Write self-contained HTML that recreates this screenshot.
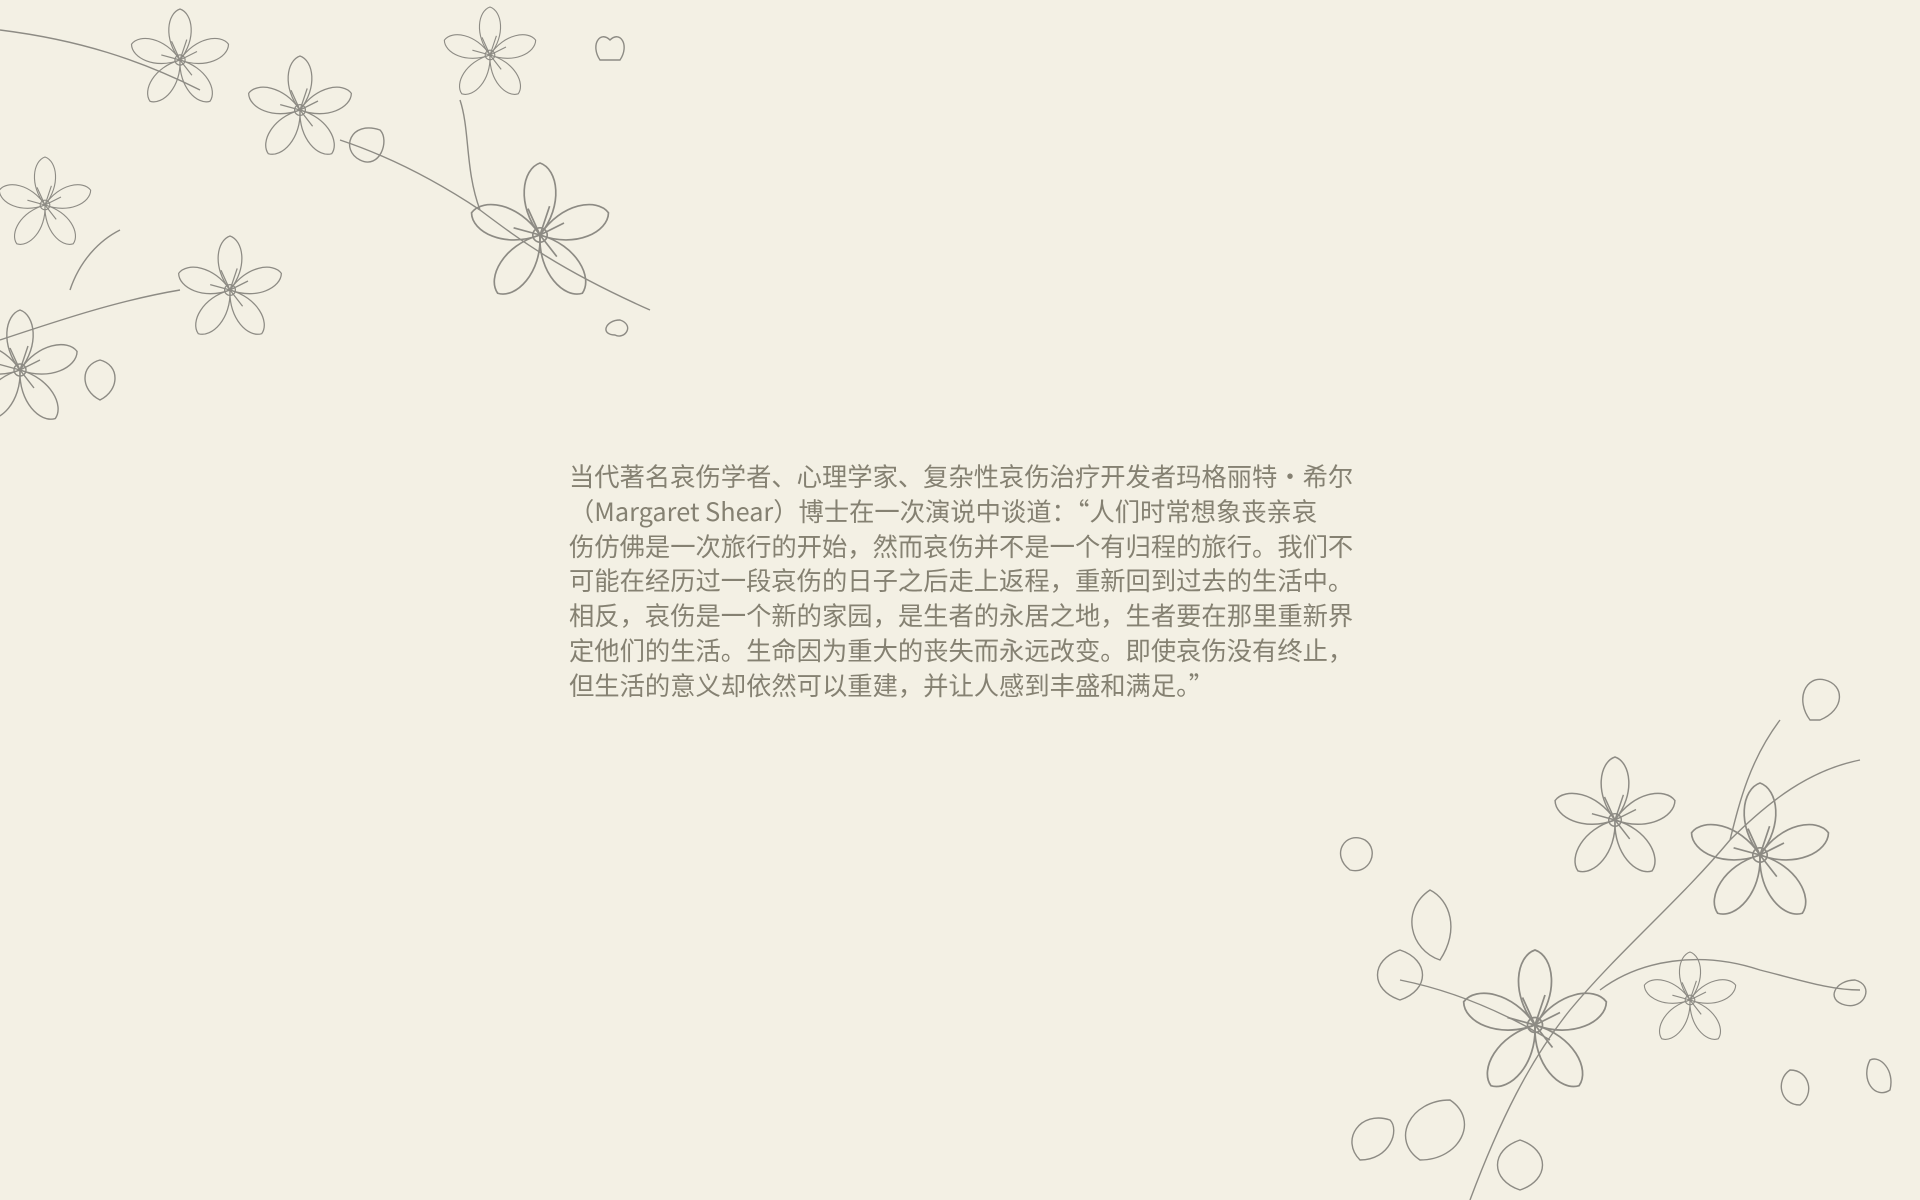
<!DOCTYPE html>
<html><head><meta charset="utf-8">
<style>
html,body{margin:0;padding:0;}
body{width:1920px;height:1200px;background:#f3f0e4;position:relative;overflow:hidden;}
#quote{position:absolute;left:569px;top:459px;font-family:"Noto Sans CJK SC","Liberation Sans",sans-serif;font-size:25.3px;line-height:34.8px;color:#858172;white-space:nowrap;}
svg{position:absolute;}
</style></head>
<body>
<svg style="left:0;top:0" width="680" height="500" viewBox="0 0 680 500" fill="none" stroke="#8d8b84" stroke-width="1.4">
<defs>
<g id="fl">
<path d="M0,0 C-20,-25 -15,-55 0,-60 C15,-55 20,-25 0,0Z"/>
<path d="M0,0 C-20,-25 -15,-55 0,-60 C15,-55 20,-25 0,0Z" transform="rotate(72)"/>
<path d="M0,0 C-20,-25 -15,-55 0,-60 C15,-55 20,-25 0,0Z" transform="rotate(144)"/>
<path d="M0,0 C-20,-25 -15,-55 0,-60 C15,-55 20,-25 0,0Z" transform="rotate(216)"/>
<path d="M0,0 C-20,-25 -15,-55 0,-60 C15,-55 20,-25 0,0Z" transform="rotate(288)"/>
<circle r="6"/>
<path d="M0,0 L-10,-22 M0,0 L8,-24 M0,0 L20,-10 M0,0 L-22,-6 M0,0 L14,18"/>
</g>
</defs>
<path d="M0,30 C80,40 140,60 200,90 M340,140 C400,160 450,190 480,210 C520,240 560,270 650,310 M0,340 C60,320 120,300 180,290 M70,290 C80,260 100,240 120,230 M460,100 C470,130 465,170 480,210"/>
<use href="#fl" transform="translate(180,60) scale(0.85)"/>
<use href="#fl" transform="translate(300,110) scale(0.9)"/>
<use href="#fl" transform="translate(490,55) scale(0.8)"/>
<use href="#fl" transform="translate(540,235) scale(1.2)"/>
<use href="#fl" transform="translate(45,205) scale(0.8)"/>
<use href="#fl" transform="translate(230,290) scale(0.9)"/>
<use href="#fl" transform="translate(20,370) scale(1.0)"/>
<path d="M600,60 c-10,-15 0,-30 10,-20 c10,-10 20,5 10,20 z M620,320 c-15,0 -20,15 -5,15 c10,5 20,-10 5,-15z M380,130 c-30,-10 -40,20 -20,30 c20,10 30,-20 20,-30z M100,360 c-20,5 -20,30 0,40 c20,-10 20,-35 0,-40z"/>
</svg>
<svg style="left:1300px;top:660px" width="620" height="540" viewBox="0 0 620 540" fill="none" stroke="#8d8b84" stroke-width="1.4">
<path d="M170,540 C200,460 230,400 270,350 C320,290 380,240 430,180 C470,140 510,110 560,100 M300,330 C340,300 400,290 460,310 C500,320 530,330 560,330 M250,380 C200,350 150,330 100,320 M430,180 C440,140 450,100 480,60"/>
<use href="#fl" transform="translate(235,365) scale(1.25)"/>
<use href="#fl" transform="translate(315,160) scale(1.05)"/>
<use href="#fl" transform="translate(460,195) scale(1.2)"/>
<use href="#fl" transform="translate(390,340) scale(0.8)"/>
<path d="M510,60 c-15,-20 -5,-45 15,-40 c20,5 20,30 -5,40z M555,320 c-20,0 -30,20 -10,25 c20,5 30,-20 10,-25z M490,410 c-15,10 -10,35 10,35 c15,-10 10,-35 -10,-35z M50,210 c-20,-15 -5,-40 15,-30 c15,10 5,35 -15,30z M100,290 c-30,10 -30,40 0,50 c30,-10 30,-40 0,-50z M150,440 c-40,0 -60,40 -30,60 c40,0 60,-40 30,-60z M90,460 c-30,-10 -50,20 -30,40 c30,0 40,-30 30,-40z M220,480 c-30,10 -30,40 0,50 c30,-10 30,-40 0,-50z M130,230 c-30,20 -20,60 10,70 c20,-30 10,-60 -10,-70z M570,400 c-10,20 5,40 20,30 c5,-20 -10,-35 -20,-30z"/>
</svg>
<div id="quote">当代著名哀伤学者、心理学家、复杂性哀伤治疗开发者玛格丽特·希尔<br>（Margaret Shear）博士在一次演说中谈道：“人们时常想象丧亲哀<br>伤仿佛是一次旅行的开始，然而哀伤并不是一个有归程的旅行。我们不<br>可能在经历过一段哀伤的日子之后走上返程，重新回到过去的生活中。<br>相反，哀伤是一个新的家园，是生者的永居之地，生者要在那里重新界<br>定他们的生活。生命因为重大的丧失而永远改变。即使哀伤没有终止，<br>但生活的意义却依然可以重建，并让人感到丰盛和满足。”</div>
</body></html>
